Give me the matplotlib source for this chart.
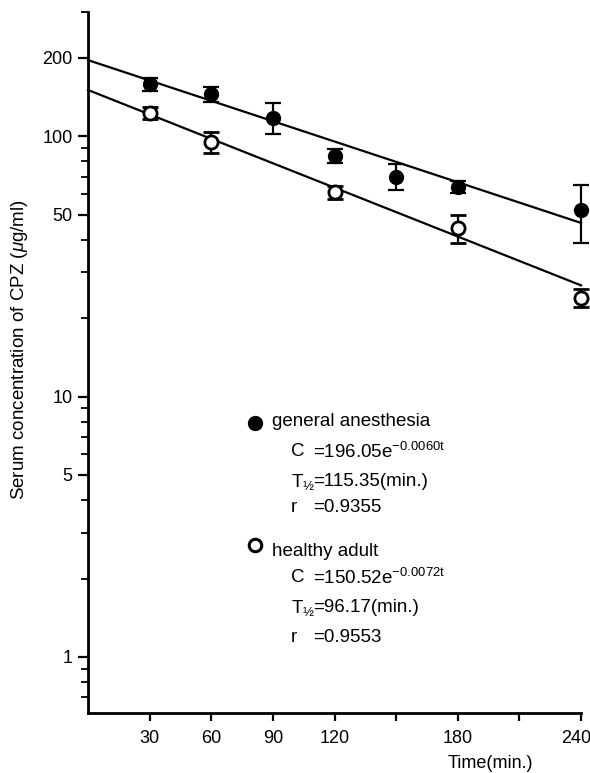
import numpy as np
import matplotlib
matplotlib.use("Agg")
import matplotlib.pyplot as plt
from matplotlib.ticker import LogLocator, NullFormatter
from matplotlib.transforms import ScaledTranslation

plt.rcParams['font.family'] = ['Liberation Sans', 'DejaVu Sans']
plt.rcParams['mathtext.fontset'] = 'custom'
plt.rcParams['mathtext.rm'] = 'Liberation Sans'
plt.rcParams['mathtext.it'] = 'Liberation Sans:italic'

# datos
tiempos_ga = [30, 60, 90, 120, 150, 180, 240]
media_ga = [158, 145, 118, 84, 70, 64, 52]
error_ga = [9, 10, 16, 5, 8, 3.5, 13]

tiempos_ha = [30, 60, 120, 180, 240]
media_ha = [123, 95, 61, 44.5, 24]
error_ha = [7, 9, 3.5, 5.5, 2]

# parametros de las rectas de regresion (C = C0 * e^(-k t))
c0_ga, k_ga = 196.05, 0.0060
c0_ha, k_ha = 150.52, 0.0072
t_recta = np.array([0, 240])

yticks = [1, 5, 10, 50, 100, 200]
xticks = [30, 60, 90, 120, 150, 180, 210, 240]
xlabels = ["30", "60", "90", "120", "", "180", "", "240"]

W, H = 590, 773


def fx(x):
    return x / W


def fy(y):
    return 1 - y / H


fig = plt.figure(figsize=(W / 100, H / 100), dpi=100)
ax = fig.add_axes([fx(88), fy(713), (581 - 88) / W, (713 - 12) / H])

# rectas
ax.plot(t_recta, c0_ga * np.exp(-k_ga * t_recta), color="black", lw=1.6, zorder=2, clip_on=False)
ax.plot(t_recta, c0_ha * np.exp(-k_ha * t_recta), color="black", lw=1.6, zorder=2, clip_on=False)

# puntos con barras de error
ax.errorbar(tiempos_ga, media_ga, yerr=error_ga, fmt="o", color="black", ms=10,
            capsize=5.5, elinewidth=1.6, capthick=1.6, clip_on=False, zorder=3)
ax.errorbar(tiempos_ha, media_ha, yerr=error_ha, fmt="o", color="black", ms=9.5,
            mfc="white", mec="black", mew=2, capsize=5.5, elinewidth=1.6,
            capthick=1.6, clip_on=False, zorder=3)

ax.set_yscale("log")
ax.set_ylim(0.609, 300)
ax.set_xlim(0, 240)
ax.set_yticks(yticks)
ax.set_yticklabels([str(v) for v in yticks])
ax.yaxis.set_minor_locator(LogLocator(base=10, subs=range(2, 10)))
ax.yaxis.set_minor_formatter(NullFormatter())
ax.set_xticks(xticks)
ax.set_xticklabels(xlabels)

for lado in ["top", "right"]:
    ax.spines[lado].set_visible(False)
for lado in ["left", "bottom"]:
    ax.spines[lado].set_linewidth(2)

ax.tick_params(axis="both", which="major", direction="out", length=7, width=1.6,
               labelsize=13, pad=4)
ax.tick_params(axis="y", which="minor", direction="out", length=5, width=1.3)
ax.tick_params(axis="x", which="major", length=6, pad=6)

# la etiqueta 240 queda pegada al borde, se corre un poco a la izquierda
ultima = ax.get_xticklabels()[-1]
ultima.set_transform(ultima.get_transform() + ScaledTranslation(-5 / 100, 0, fig.dpi_scale_trans))

fig.text(fx(20), fy(350), "Serum concentration of CPZ ($\\mu$g/ml)", rotation=90,
         ha="center", va="center", fontsize=13.5)
fig.text(fx(490), fy(763), "Time(min.)", ha="center", va="center", fontsize=13)

# leyenda con ecuaciones
fig.lines.append(plt.Line2D([fx(255)], [fy(423)], marker="o", ms=10, color="black",
                            transform=fig.transFigure))
fig.lines.append(plt.Line2D([fx(255)], [fy(545)], marker="o", ms=9, mfc="white",
                            mec="black", mew=2.2, transform=fig.transFigure))

bloques = [
    (422, "general anesthesia", [
        (452, "C", "=196.05e$^{\\mathrm{-0.0060t}}$"),
        (482, "T$_{\\mathrm{½}}$", "=115.35(min.)"),
        (507, "r", "=0.9355"),
    ]),
    (552, "healthy adult", [
        (578, "C", "=150.52e$^{\\mathrm{-0.0072t}}$"),
        (608, "T$_{\\mathrm{½}}$", "=96.17(min.)"),
        (637, "r", "=0.9553"),
    ]),
]
for y_tit, titulo, filas in bloques:
    fig.text(fx(272), fy(y_tit), titulo, ha="left", va="center", fontsize=13.5)
    for y_f, izq, der in filas:
        fig.text(fx(291), fy(y_f), izq, ha="left", va="center", fontsize=13.5)
        fig.text(fx(313), fy(y_f), der, ha="left", va="center", fontsize=13.5)

fig.savefig("out.png", dpi=100)
